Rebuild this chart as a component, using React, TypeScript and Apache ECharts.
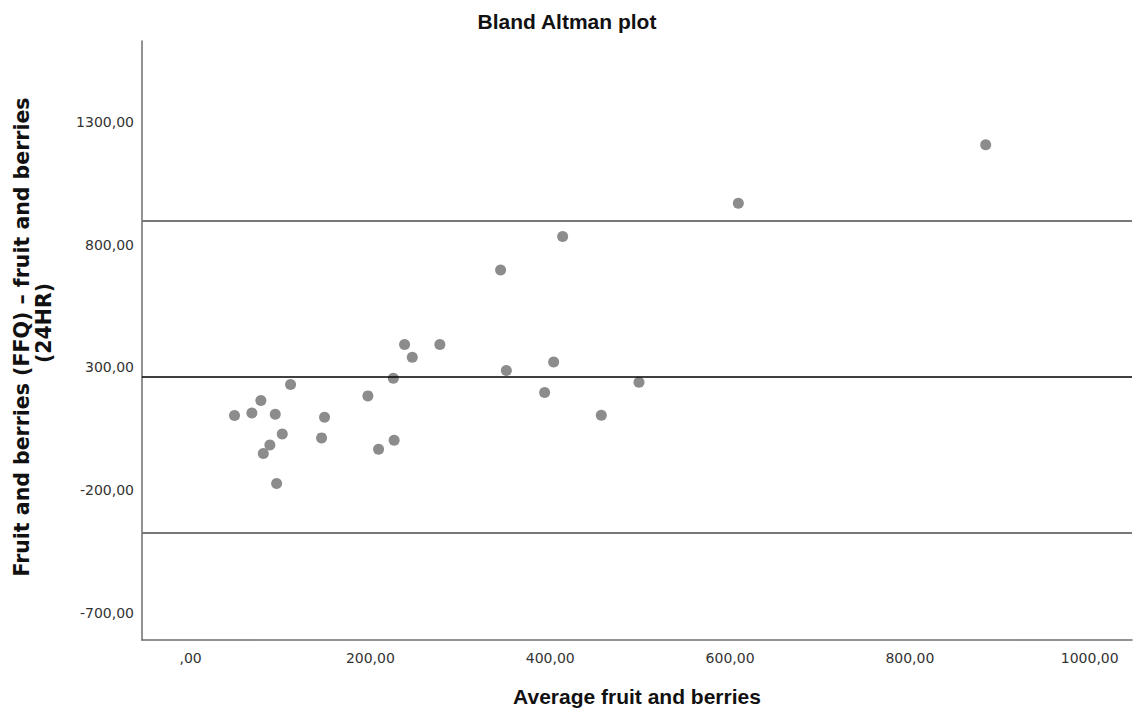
import React, { useEffect, useRef } from "react";
import * as echarts from "echarts";

// Average of the two methods (x) and difference FFQ − 24HR (y)
const averages = [48.9, 68.2, 78.2, 94.2, 111.2, 102.0, 88.2, 80.9, 95.7, 149.0, 145.7, 197.2, 225.5, 209.1, 226.4, 238.0, 246.6, 277.3, 344.8, 413.8, 351.2, 403.8, 393.8, 456.8, 498.7, 609.2, 884.3];
const differences = [103.7, 114.7, 164.8, 109.4, 230, 29.2, -15.6, -51, -173, 97.2, 13, 184, 256, -33, 3, 393.6, 341.5, 393.6, 697, 832.6, 287, 322.4, 197.4, 105.4, 239.7, 968.6, 1207];

// Mean difference and limits of agreement
const meanDifference = 261;
const upperLimit = 896;
const lowerLimit = -375;

// Axis ticks
const xTicks = [0, 200, 400, 600, 800, 1000];
const yTicks = [-700, -200, 300, 800, 1300];

const fmt = (v: number) => {
  const s = Number(v).toFixed(2).replace(".", ",");
  return s.startsWith("0,") ? s.slice(1) : s;
};

export default function App() {
  const ref = useRef<HTMLDivElement>(null);
  useEffect(() => {
    if (!ref.current) return;
    const chart = echarts.init(ref.current, undefined, { renderer: "svg" });
    const points = averages.map((a, i) => [a, differences[i]]);
    chart.setOption({
      animation: false,
      backgroundColor: "#ffffff",
      title: {
        text: "Bland Altman plot",
        left: "center",
        top: 11,
        padding: 0,
        textStyle: {
          fontFamily: "Liberation Sans",
          fontWeight: "bold",
          fontSize: 21,
          color: "#111",
        },
      },
      grid: { left: 142, right: 2, top: 41, bottom: 78, containLabel: false },
      xAxis: {
        type: "value",
        min: -54,
        max: 1047,
        name: "Average fruit and berries",
        nameLocation: "middle",
        nameGap: 46,
        nameTextStyle: {
          fontFamily: "Liberation Sans",
          fontWeight: "bold",
          fontSize: 21,
          color: "#111",
        },
        axisLine: { show: true, onZero: false, lineStyle: { color: "#6e6e6e", width: 1.5 } },
        axisTick: { show: false },
        splitLine: { show: false },
        axisLabel: {
          customValues: xTicks,
          formatter: (v: number) => fmt(v),
          margin: 11,
          fontFamily: "DejaVu Sans",
          fontSize: 14,
          color: "#333",
        },
      },
      yAxis: {
        type: "value",
        min: -810,
        max: 1629,
        axisLine: { show: true, onZero: false, lineStyle: { color: "#6e6e6e", width: 1.5 } },
        axisTick: { show: false },
        splitLine: { show: false },
        axisLabel: {
          customValues: yTicks,
          formatter: (v: number) => fmt(v),
          margin: 8,
          fontFamily: "DejaVu Sans",
          fontSize: 14,
          color: "#333",
        },
      },
      graphic: [
        {
          type: "text",
          x: 22,
          y: 337,
          rotation: Math.PI / 2,
          style: {
            text: "Fruit and berries (FFQ) – fruit and berries",
            fontFamily: "DejaVu Sans",
            fontWeight: "bold",
            fontSize: 20.5,
            fill: "#111",
            align: "center",
            verticalAlign: "middle",
          },
        },
        {
          type: "text",
          x: 44,
          y: 323,
          rotation: Math.PI / 2,
          style: {
            text: "(24HR)",
            fontFamily: "DejaVu Sans",
            fontWeight: "bold",
            fontSize: 20.5,
            fill: "#111",
            align: "center",
            verticalAlign: "middle",
          },
        },
      ],
      series: [
        {
          type: "scatter",
          data: points,
          symbol: "circle",
          symbolSize: 11,
          itemStyle: { color: "#6f6f6f" },
          markLine: {
            silent: true,
            symbol: ["none", "none"],
            label: { show: false },
            data: [
              { yAxis: upperLimit, lineStyle: { color: "#787878", width: 2, type: "solid" } },
              { yAxis: meanDifference, lineStyle: { color: "#000000", width: 1.5, type: "solid" } },
              { yAxis: lowerLimit, lineStyle: { color: "#787878", width: 2, type: "solid" } },
            ],
          },
        },
      ],
    });
    return () => chart.dispose();
  }, []);
  return (
    <div
      ref={ref}
      style={{ position: "fixed", left: 0, top: 0, width: 1134, height: 718 }}
    />
  );
}
